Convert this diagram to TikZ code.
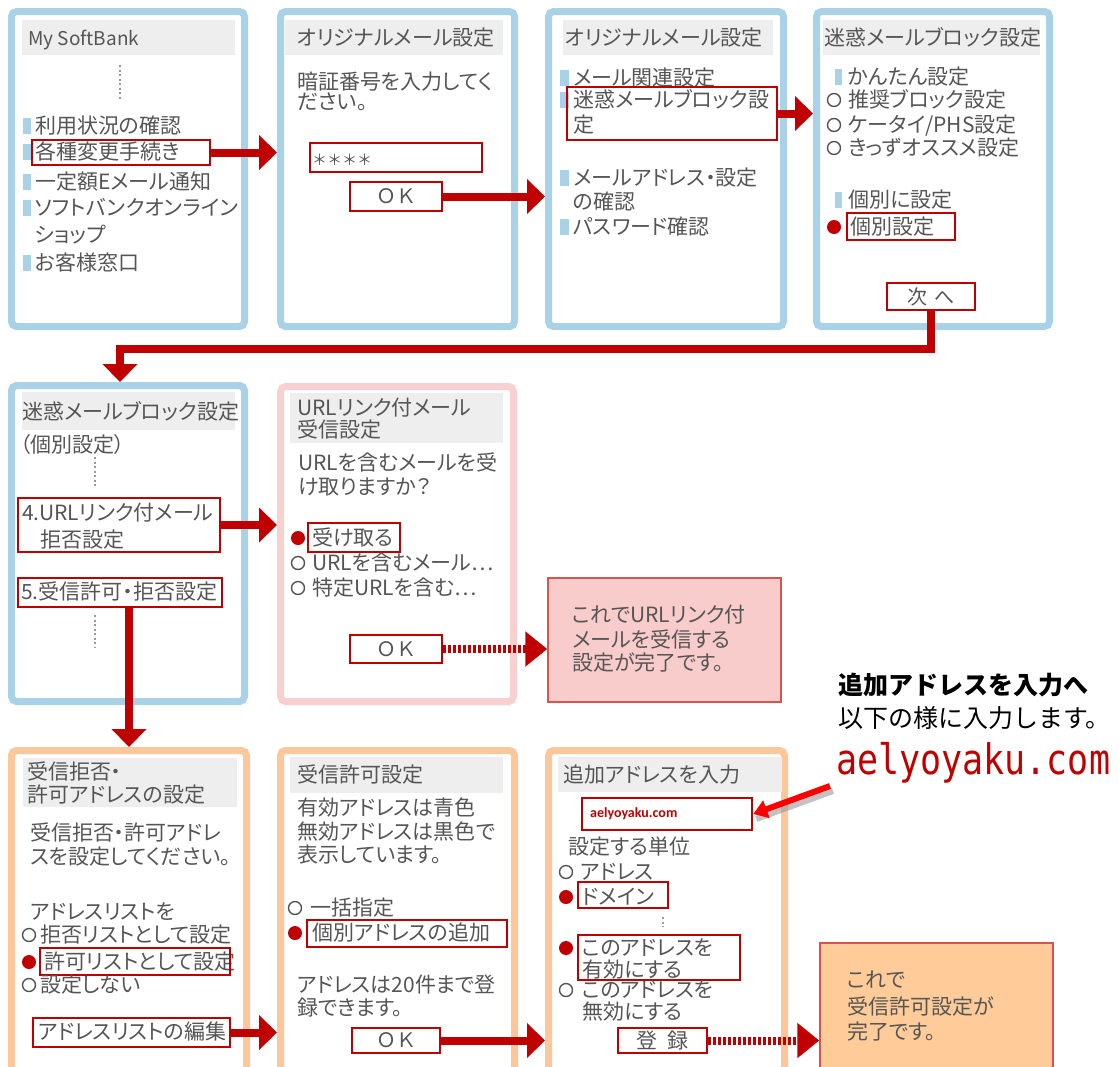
\documentclass[tikz,border=0pt]{standalone}
\usepackage{fontspec}
\setmainfont{Noto Sans CJK JP}[RawFeature={+palt}]
\newfontfamily\jpfix{Noto Sans CJK JP}
\newfontfamily\monof{DejaVu Sans Mono}
\newfontfamily\carl{Carlito}
\usetikzlibrary{arrows.meta,fit}
\definecolor{blueB}{HTML}{A9D1E7}
\definecolor{orangeB}{HTML}{FCC89B}
\definecolor{pinkB}{HTML}{F9D0D0}
\definecolor{titleG}{HTML}{EEEEEE}
\definecolor{redD}{HTML}{C00000}
\definecolor{txtG}{HTML}{555555}
\definecolor{doneOneF}{HTML}{F9CCCC}
\definecolor{doneTwoF}{HTML}{FFCC99}
\definecolor{doneB}{HTML}{D9534F}
\definecolor{brightR}{HTML}{FF0000}
\begin{document}
\begin{tikzpicture}[x=1pt,y=-1pt,
  panel/.style={draw=#1, line width=7pt, rounded corners=5pt, fill=white, inner sep=0pt},
  tbar/.style={fill=titleG},
  pt/.style={anchor=west, inner sep=0pt, text=txtG, font=\fontsize{21}{24}\selectfont, text height=18pt, text depth=3pt},
  redbox/.style={draw=redD, line width=2.5pt, inner sep=0pt},
  btnbox/.style={draw=redD, line width=2.5pt, inner sep=0pt, fill=white, text=txtG, font=\jpfix\fontsize{20}{24}\selectfont},
  bsq/.style={fill=blueB},
  oc/.style={draw=txtG, line width=1.4pt, fill=white},
  fc/.style={fill=redD},
  vd/.style={draw=txtG!60, line width=1.5pt, dash pattern=on 2pt off 2.5pt},
  bigarrow/.style={draw=redD, line width=8pt, line join=miter, -{Triangle[length=18pt,width=34pt]}},
  dotarrow/.style={draw=redD, line width=8pt, dash pattern=on 3pt off 2pt, -{Triangle[length=22pt,width=34pt]}},
  donebox/.style={draw=doneB, line width=1.5pt, inner sep=0pt}
]
\useasboundingbox (0,0) rectangle (1119,1066);
\clip (0,0) rectangle (1119,1066);

% ---------- panels ----------
\node[panel=blueB, fit={(11.5,11.5)(244.5,326.5)}] (p1) {};
\node[panel=blueB, fit={(280.5,11.5)(514.5,326.5)}] (p2) {};
\node[panel=blueB, fit={(548.5,11.5)(783.5,326.5)}] (p3) {};
\node[panel=blueB, fit={(816.5,11.5)(1049.5,326.5)}] (p4) {};
\node[panel=blueB, fit={(11.5,385.5)(244.5,701.5)}] (p5) {};
\node[panel=pinkB, fit={(280.5,386.5)(513.5,701.5)}] (p6) {};
\node[panel=orangeB, fit={(11.5,750.5)(246.5,1090)}] (p7) {};
\node[panel=orangeB, fit={(280.5,750.5)(514.5,1090)}] (p8) {};
\node[panel=orangeB, fit={(548.5,750.5)(784.5,1090)}] (p9) {};

% ---------- panel 1 ----------
\fill[tbar] (22,20) rectangle (235,55);
\node[pt, font=\fontsize{19}{22}\selectfont] (p1t) at (28,38) {My SoftBank};
\draw[vd] (120,65) -- (120,100);
\foreach \y in {126,152,182,208,263} \fill[bsq] (23,\y-8) rectangle (31,\y+8);
\node[pt] (p1a) at (35,126) {利用状況の確認};
\node[pt] (p1b) at (35,152) {各種変更手続き};
\node[pt] (p1c) at (35,182) {一定額Eメール通知};
\node[pt] (p1d) at (35,208) {ソフトバンクオンライン};
\node[pt] (p1e) at (35,235) {ショップ};
\node[pt] (p1f) at (35,263) {お客様窓口};
\node[redbox, fit={(32,140)(210,165)}] (rb1) {};

% ---------- panel 2 ----------
\fill[tbar] (285,20) rectangle (503,55);
\node[pt] (p2t) at (297,38) {オリジナルメール設定};
\node[pt] (p2a) at (297,82) {暗証番号を入力してく};
\node[pt] (p2b) at (297,102) {ださい。};
\node[redbox, fit={(310,143)(482,172)}] (rb2) {};
\node[pt, font=\jpfix\fontsize{15}{18}\selectfont] (p2s) at (312,158) {＊＊＊＊};
\node[btnbox, minimum width=92pt, minimum height=29pt] (ok2) at (396,196.5) {ＯＫ};

% ---------- panel 3 ----------
\fill[tbar] (563,20) rectangle (773,55);
\node[pt] (p3t) at (565,38) {オリジナルメール設定};
\foreach \y in {78,100,178,227} \fill[bsq] (560,\y-8) rectangle (569,\y+8);
\node[pt] (p3a) at (573,78) {メール関連設定};
\node[pt] (p3b) at (573,100) {迷惑メールブロック設};
\node[pt] (p3c) at (573,125) {定};
\node[pt] (p3d) at (573,178) {メールアドレス・設定};
\node[pt] (p3e) at (573,202) {の確認};
\node[pt] (p3f) at (573,227) {パスワード確認};
\node[redbox, fit={(567,87)(777,140)}] (rb3) {};

% ---------- panel 4 ----------
\fill[tbar] (823,20) rectangle (1040,55);
\node[pt] (p4t) at (824,38) {迷惑メールブロック設定};
\fill[bsq] (835,69) rectangle (842,85);
\node[pt] (p4a) at (848,77) {かんたん設定};
\draw[oc] (834,100) circle (6.5pt);
\node[pt] (p4b) at (848,100) {推奨ブロック設定};
\draw[oc] (834,125) circle (6.5pt);
\node[pt] (p4c) at (848,125) {ケータイ/PHS設定};
\draw[oc] (834,148) circle (6.5pt);
\node[pt] (p4d) at (848,148) {きっずオススメ設定};
\fill[bsq] (835,192) rectangle (842,208);
\node[pt] (p4e) at (848,200) {個別に設定};
\fill[fc] (834,227) circle (7pt);
\node[pt] (p4f) at (850,227) {個別設定};
\node[redbox, fit={(847,213)(955,240)}] (rb4) {};
\node[btnbox, minimum width=88pt, minimum height=27pt] (next) at (931,296.5) {次\hspace{7pt}へ};

% ---------- panel 5 ----------
\fill[tbar] (22,392) rectangle (235,430);
\node[pt] (p5t) at (22,412) {迷惑メールブロック設定};
\node[pt] (p5a) at (20,445) {（個別設定）};
\draw[vd] (95,457) -- (95,487);
\node[pt] (p5b) at (22,513) {4.URLリンク付メール};
\node[pt] (p5c) at (40,540) {拒否設定};
\node[redbox, fit={(18,498)(220,552)}] (rb5a) {};
\node[pt] (p5d) at (21,592) {5.受信許可・拒否設定};
\node[redbox, fit={(18,578)(222,607)}] (rb5b) {};
\draw[vd] (95,615) -- (95,647);

% ---------- panel 6 ----------
\fill[tbar] (290,393) rectangle (503,443);
\node[pt] (p6t1) at (297,408) {URLリンク付メール};
\node[pt] (p6t2) at (297,430) {受信設定};
\node[pt] (p6a) at (298,463) {URLを含むメールを受};
\node[pt] (p6b) at (298,487) {け取りますか？};
\fill[fc] (298,538) circle (7pt);
\node[pt] (p6c) at (312,538) {受け取る};
\node[redbox, fit={(308,523)(400,552)}] (rb6) {};
\draw[oc] (298,563) circle (6.5pt);
\node[pt] (p6d) at (312,563) {URLを含むメール…};
\draw[oc] (298,588) circle (6.5pt);
\node[pt] (p6e) at (312,588) {特定URLを含む…};
\node[btnbox, minimum width=92pt, minimum height=28pt] (ok6) at (396,649) {ＯＫ};

% ---------- completion 1 ----------
\node[donebox, fill=doneOneF, fit={(548,578)(781,702)}] (d1) {};
\node[pt] (d1a) at (572,615) {これでURLリンク付};
\node[pt] (d1b) at (572,640) {メールを受信する};
\node[pt] (d1c) at (572,663) {設定が完了です。};

% ---------- panel 7 ----------
\fill[tbar] (23,758) rectangle (237,807);
\node[pt] (p7t1) at (27,772) {受信拒否・};
\node[pt] (p7t2) at (27,795) {許可アドレスの設定};
\node[pt] (p7a) at (30,833) {受信拒否・許可アドレ};
\node[pt] (p7b) at (30,857) {スを設定してください。};
\node[pt] (p7c) at (30,912) {アドレスリストを};
\draw[oc] (29,935) circle (6.5pt);
\node[pt] (p7d) at (40,935) {拒否リストとして設定};
\fill[fc] (29,962) circle (7pt);
\node[pt] (p7e) at (44,962) {許可リストとして設定};
\node[redbox, fit={(40,948)(230,975)}] (rb7a) {};
\draw[oc] (29,985) circle (6.5pt);
\node[pt] (p7f) at (40,985) {設定しない};
\node[pt] (p7g) at (38,1032) {アドレスリストの編集};
\node[redbox, fit={(33,1018)(230,1047)}] (rb7b) {};

% ---------- panel 8 ----------
\fill[tbar] (290,757) rectangle (503,793);
\node[pt] (p8t) at (297,775) {受信許可設定};
\node[pt] (p8a) at (297,808) {有効アドレスは青色};
\node[pt] (p8b) at (297,832) {無効アドレスは黒色で};
\node[pt] (p8c) at (297,855) {表示しています。};
\draw[oc] (295,908) circle (6.5pt);
\node[pt] (p8d) at (310,908) {一括指定};
\fill[fc] (295,933) circle (7pt);
\node[pt] (p8e) at (312,933) {個別アドレスの追加};
\node[redbox, fit={(307,920)(507,947)}] (rb8) {};
\node[pt] (p8f) at (297,985) {アドレスは20件まで登};
\node[pt] (p8g) at (297,1008) {録できます。};
\node[btnbox, minimum width=88pt, minimum height=25pt] (ok8) at (396,1040.5) {ＯＫ};

% ---------- panel 9 ----------
\fill[tbar] (558,757) rectangle (782,792);
\node[pt] (p9t) at (563,775) {追加アドレスを入力};
\node[redbox, fit={(582,798)(752,830)}] (inbox) {};
\node[anchor=west, inner sep=0pt, text=redD, font=\carl\bfseries\fontsize{14}{16}\selectfont] (inboxt) at (590,814) {aelyoyaku.com};
\node[pt] (p9a) at (568,847) {設定する単位};
\draw[oc] (566,872) circle (6.5pt);
\node[pt] (p9b) at (580,872) {アドレス};
\fill[fc] (566,897) circle (7pt);
\node[pt] (p9c) at (582,897) {ドメイン};
\node[redbox, fit={(578,882)(668,908)}] (rb9a) {};
\draw[vd] (663,917) -- (663,927);
\fill[fc] (566,948) circle (7pt);
\node[pt] (p9d) at (582,948) {このアドレスを};
\node[pt] (p9e) at (582,970) {有効にする};
\node[redbox, fit={(578,935)(740,980)}] (rb9b) {};
\draw[oc] (566,990) circle (6.5pt);
\node[pt] (p9f) at (582,990) {このアドレスを};
\node[pt] (p9g) at (582,1012) {無効にする};
\node[btnbox, minimum width=89pt, minimum height=25pt, font=\jpfix\fontsize{21}{24}\selectfont] (reg9) at (662.5,1040.5) {登\hspace{10pt}録};

% ---------- completion 2 ----------
\node[donebox, fill=doneTwoF, fit={(820,943)(1053,1090)}] (d2) {};
\node[pt] (d2a) at (847,980) {これで};
\node[pt] (d2b) at (847,1007) {受信許可設定が};
\node[pt] (d2c) at (847,1032) {完了です。};

% ---------- annotation ----------
\node[anchor=west, inner sep=0pt, font=\jpfix\bfseries\fontsize{25}{28}\selectfont] (ann1) at (838,685) {追加アドレスを入力へ};
\node[anchor=west, inner sep=0pt, font=\jpfix\fontsize{25}{28}\selectfont] (ann2) at (838,718) {以下の様に入力します。};
\node[anchor=west, inner sep=0pt, text=redD, font=\monof\fontsize{35}{40}\selectfont] (ann3) at (836,763) {\scalebox{1}[1.2]{aelyoyaku.com}};
\coordinate (ptail) at (830,786);
\draw[line width=6pt, black!40, opacity=.6] ([shift={(3,5)}]ptail) -- ([shift={(3,5)}]inbox.east);
\draw[line width=6pt, brightR, -{Triangle[length=14pt,width=18pt]}] (ptail) -- (inbox.east);

% ---------- connectors ----------
\draw[bigarrow] (rb1.east) -- (rb1.east -| p2.west);
\draw[bigarrow] (ok2.east) -- (ok2.east -| p3.west);
\draw[bigarrow] (rb3.east) -- (rb3.east -| p4.west);
\draw[bigarrow] (next.south) -- ++(0,38) -| ([xshift=-8pt]p5.north);
\draw[bigarrow] (rb5a.east) -- (rb5a.east -| p6.west);
\draw[bigarrow] (rb5b.south -| p7.north) -- (p7.north);
\draw[dotarrow] (ok6.east) -- (ok6.east -| d1.west);
\draw[bigarrow] (rb7b.east) -- (rb7b.east -| p8.west);
\draw[bigarrow] (ok8.east) -- (ok8.east -| p9.west);
\draw[dotarrow] (reg9.east) -- (reg9.east -| d2.west);
\end{tikzpicture}
\end{document}
